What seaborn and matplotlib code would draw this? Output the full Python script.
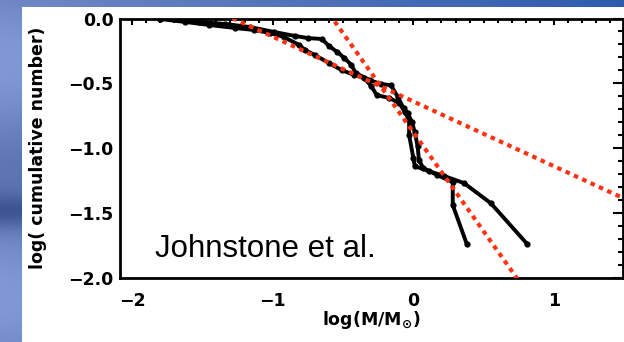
import numpy as np
import matplotlib
matplotlib.use("Agg")
import matplotlib.pyplot as plt
import seaborn as sns
import pandas as pd
from matplotlib.patches import Rectangle

# ---- data ----
curve_a_x = [-1.80, -1.66, -1.52, -1.34, -1.16, -0.99, -0.84, -0.75, -0.65, -0.60,
             -0.54, -0.49, -0.44, -0.41, -0.31, -0.23, -0.16, -0.11, -0.07, -0.04,
             -0.01, 0.01, 0.03, 0.04, 0.07, 0.17, 0.28, 0.28, 0.38]
curve_a_y = [0.0, -0.004, -0.027, -0.042, -0.066, -0.104, -0.135, -0.151, -0.158, -0.212,
             -0.259, -0.305, -0.359, -0.421, -0.475, -0.506, -0.514, -0.606, -0.691, -0.730,
             -0.799, -0.876, -0.985, -1.093, -1.154, -1.208, -1.263, -1.440, -1.741]
curve_b_x = [-1.80, -1.62, -1.45, -1.27, -1.13, -1.02, -0.92, -0.81, -0.77, -0.70,
             -0.60, -0.51, -0.42, -0.35, -0.30, -0.26, -0.17, -0.10, -0.06, -0.03,
             -0.03, 0.00, 0.01, 0.11, 0.22, 0.36, 0.55, 0.81]
curve_b_y = [-0.004, -0.027, -0.05, -0.073, -0.089, -0.112, -0.143, -0.205, -0.243, -0.282,
             -0.344, -0.398, -0.436, -0.459, -0.521, -0.591, -0.614, -0.653, -0.722, -0.784,
             -0.900, -1.077, -1.139, -1.178, -1.216, -1.270, -1.425, -1.741]

fit_slopes = [-1.53, -0.50]
fit_intercepts = [-0.878, -0.64]

x_ticks = [-2, -1, 0, 1]
x_tick_labels = ["\u22122", "\u22121", "0", "1"]
y_ticks = [0.0, -0.5, -1.0, -1.5, -2.0]
y_tick_labels = ["0.0", "\u22120.5", "\u22121.0", "\u22121.5", "\u22122.0"]
x_limits = (-2.085, 1.49)
y_limits = (-2.0, 0.0)

annotation = "Johnstone et al."
x_label = r"log(M/M$_{\odot}$)"
y_label = "log( cumulative number)"

# ---- figure ----
sns.set_theme(style="white")
plt.rcParams["font.family"] = ["DejaVu Sans"]
plt.rcParams["mathtext.fontset"] = "dejavusans"
plt.rcParams["mathtext.default"] = "bf"

W, H = 624, 342
fig = plt.figure(figsize=(W / 100, H / 100), dpi=100)

# slide background gradient
bg = fig.add_axes([0, 0, 1, 1], zorder=0)
bg.set_axis_off()
gx = np.linspace(0, 1, 200)[None, :, None]
gy = np.linspace(0, 1, 120)[:, None, None]
c_left = np.array([0.44, 0.53, 0.77])
c_right = np.array([0.18, 0.36, 0.68])
img = c_left * (1 - gx) + c_right * gx
band = 0.07 * np.sin(gy * 9.0) - 0.15 * np.exp(-((gy - 0.62) / 0.05) ** 2)
img = np.clip(img + band * (1 - gx), 0, 1)
bg.imshow(img, extent=[0, 1, 0, 1], aspect="auto", origin="upper")
bg.add_patch(Rectangle((22 / W, 0), 1, (H - 7) / H, transform=bg.transAxes,
                       facecolor="white", edgecolor="none"))
bg.set_xlim(0, 1)
bg.set_ylim(0, 1)

ax = fig.add_axes([120 / W, 64.3 / H, 503 / W, 259.2 / H], zorder=2)
ax.set_facecolor("white")

df_a = pd.DataFrame({"x": curve_a_x, "y": curve_a_y})
df_b = pd.DataFrame({"x": curve_b_x, "y": curve_b_y})
for df in (df_a, df_b):
    sns.lineplot(data=df, x="x", y="y", sort=False, estimator=None, ax=ax,
                 color="black", linewidth=2.8, marker="o", markersize=4.5,
                 markeredgewidth=0, zorder=3)

xfit = np.array(x_limits)
for s, b in zip(fit_slopes, fit_intercepts):
    sns.lineplot(x=xfit, y=b + s * xfit, sort=False, estimator=None, ax=ax,
                 color="#ff3314", linewidth=3.0, linestyle=(0, (1.1, 1.1)),
                 zorder=4)

ax.text(-1.837, -1.842, annotation, fontsize=22.5, family="Liberation Sans",
        va="baseline", ha="left", color="black", zorder=5)

ax.set_xlim(*x_limits)
ax.set_ylim(*y_limits)
ax.set_xticks(x_ticks)
ax.set_xticklabels(x_tick_labels, fontsize=12.5, fontweight="bold")
ax.set_yticks(y_ticks)
ax.set_yticklabels(y_tick_labels, fontsize=12.5, fontweight="bold")
ax.xaxis.set_minor_locator(matplotlib.ticker.MultipleLocator(0.1))
ax.yaxis.set_minor_locator(matplotlib.ticker.MultipleLocator(0.1))

ax.tick_params(which="both", direction="in", top=True, right=True,
               color="black", labelcolor="black", width=1.5)
ax.tick_params(axis="x", which="major", length=4.5, pad=10.5)
ax.tick_params(axis="x", which="minor", length=2.8)
ax.tick_params(axis="y", which="major", length=7.5, pad=4.5)
ax.tick_params(axis="y", which="minor", length=3.5)

for sp in ax.spines.values():
    sp.set_linewidth(2.0)
    sp.set_color("black")

ax.set_xlabel(x_label, fontsize=12.5, fontweight="bold", color="black")
ax.set_ylabel(y_label, fontsize=12.5, fontweight="bold", color="black")
ax.xaxis.set_label_coords(0.5, -0.12)
ax.yaxis.set_label_coords(-0.145, 0.5)
ax.grid(False)

fig.savefig("out.png", dpi=100)
